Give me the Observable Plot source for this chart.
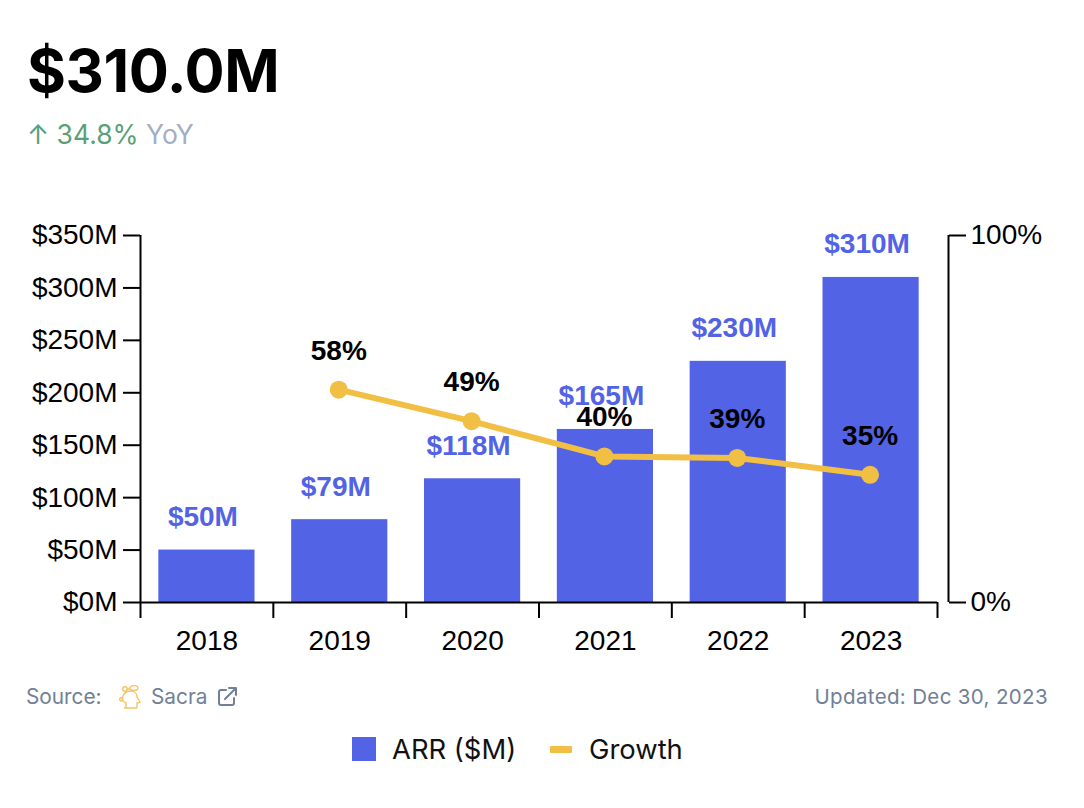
<!DOCTYPE html>
<html>
<head>
<meta charset="utf-8">
<script src="https://cdn.jsdelivr.net/npm/d3@7"></script>
<script src="https://cdn.jsdelivr.net/npm/@observablehq/plot@0.6"></script>
<style>
html,body{margin:0;padding:0;background:#fff;}
body{width:1084px;height:808px;position:relative;overflow:hidden;font-family:Inter,sans-serif;}
.a{position:absolute;white-space:nowrap;}
#chart{position:absolute;left:-0.5px;top:190px;}
#chart svg{font-family:"Liberation Sans",Arial,sans-serif;}
</style>
</head>
<body>
<div class="a" style="left:27px;top:34px;font-size:59.500px;line-height:72px;font-weight:700;color:#000;letter-spacing:-0.4px">$310.0M</div>
<div class="a" style="left:27px;top:119px;font-size:26.500px;line-height:30px;color:#5a9f75">↑ 34.8% <span style="color:#a3aec2">YoY</span></div>
<div id="chart"></div>
<div class="a" style="left:26px;top:684px;font-size:20.800px;line-height:26px;color:#718096">Source:</div>
<svg class="a" style="left:117px;top:684px" width="26" height="26" viewBox="0 0 26 26" fill="none" stroke="#f3c465" stroke-width="1.4">
<path d="M7 24H20M9 24V19C6 18 5 15 6 12C7 9 10 7 14 7C18 7 20 10 20 13L23 18L20 19V24"/>
<ellipse cx="17" cy="4" rx="4" ry="2.4"/><circle cx="8" cy="5" r="2.2"/><path d="M10 5H13M3 14C5 13 6 15 5 17C3 17 2 16 3 14Z"/>
</svg>
<div class="a" style="left:151px;top:684px;font-size:20.800px;line-height:26px;color:#718096">Sacra</div>
<svg class="a" style="left:216px;top:685px" width="23" height="23" viewBox="0 0 23 23" fill="none" stroke="#718096" stroke-width="2" stroke-linecap="round" stroke-linejoin="round">
<path d="M10 5H5C3.5 5 3 5.8 3 7V18C3 19.5 3.8 20 5 20H16C17.500 20 18 19.200 18 18V13M9 14L20 3M13 3H20V10"/>
</svg>
<div class="a" style="right:36px;top:684px;font-size:20.500px;line-height:26px;color:#718096;letter-spacing:.35px">Updated: Dec 30, 2023</div>
<div class="a" style="left:352px;top:737px;width:24px;height:24px;background:#5263e5"></div>
<div class="a" style="left:392px;top:733px;font-size:27.400px;line-height:32px;color:#111">ARR ($M)</div>
<div class="a" style="left:550px;top:746px;width:22px;height:7px;background:#f2bf45;border-radius:1px"></div>
<div class="a" style="left:589px;top:733px;font-size:27.400px;line-height:32px;color:#111">Growth</div>
<script>
const years = [2018, 2019, 2020, 2021, 2022, 2023];
const arr = [50, 79, 118, 165, 230, 310];
const growthYears = [2019, 2020, 2021, 2022, 2023];
const growth = [58, 49.4, 39.8, 39.4, 34.8];
const yTicks = [0, 50, 100, 150, 200, 250, 300, 350];
const xBoundaries = [2017.5, 2018.5, 2019.5, 2020.5, 2021.5, 2022.5, 2023.5];

const barHalf = 0.362;
const fs = 28;
const blue = "#5263e5", gold = "#f2bf45";
const growthY = g => g * 3.5;   // 0–100% right axis spans the same height as $0–350M

const chart = Plot.plot({
  width: 1084, height: 470,
  marginLeft: 140, marginRight: 147, marginTop: 45, marginBottom: 58,
  style: {background: "transparent", overflow: "visible"},
  x: {type: "linear", domain: [2017.5, 2023.5]},
  y: {domain: [0, 350]},
  marks: [
    Plot.rectY(years, {x1: d => d - barHalf, x2: d => d + barHalf, y1: 0, y2: (d, i) => arr[i], fill: blue}),
    Plot.ruleY([0], {stroke: "#000", strokeWidth: 2}),
    Plot.axisY({ticks: yTicks, tickFormat: d => `$${d}M`, tickSize: 17, tickPadding: 6, stroke: "#000", strokeWidth: 2, strokeOpacity: 1, color: "#000", fontSize: fs, label: null}),
    Plot.ruleX([2017.5], {y1: 0, y2: 350, stroke: "#000", strokeWidth: 2}),
    Plot.axisX({ticks: xBoundaries, tickFormat: () => "", tickSize: 16, stroke: "#000", strokeWidth: 2, strokeOpacity: 1, label: null}),
    Plot.axisX({ticks: years, tickFormat: "d", tickSize: 0, tickPadding: 28, color: "#000", fontSize: fs, label: null, textOverflow: null}),
    Plot.ruleX([2023.5], {y1: 0, y2: 350, dx: 11, stroke: "#000", strokeWidth: 2}),
    Plot.axisY({anchor: "right", ticks: [0, 350], tickFormat: d => `${d / 3.5}%`, tickSize: 17, tickPadding: 5, dx: 11, stroke: "#000", strokeWidth: 2, strokeOpacity: 1, color: "#000", fontSize: fs, label: null}),
    Plot.text(years, {x: d => d, y: (d, i) => arr[i], text: (d, i) => `$${arr[i]}M`, dy: -33, dx: -4, fill: blue, fontWeight: 700, fontSize: fs, stroke: "none"}),
    Plot.line(growthYears, {x: d => d, y: (d, i) => growthY(growth[i]), stroke: gold, strokeWidth: 6, dx: -1}),
    Plot.dot(growthYears, {x: d => d, y: (d, i) => growthY(growth[i]), r: 9, fill: gold, dx: -1}),
    Plot.text(growthYears, {x: d => d, y: (d, i) => growthY(growth[i]), text: (d, i) => `${Math.round(growth[i])}%`, dy: -39, dx: -1, fill: "#000", fontWeight: 700, fontSize: fs})
  ]
});
document.getElementById("chart").appendChild(chart);
</script>
</body>
</html>
